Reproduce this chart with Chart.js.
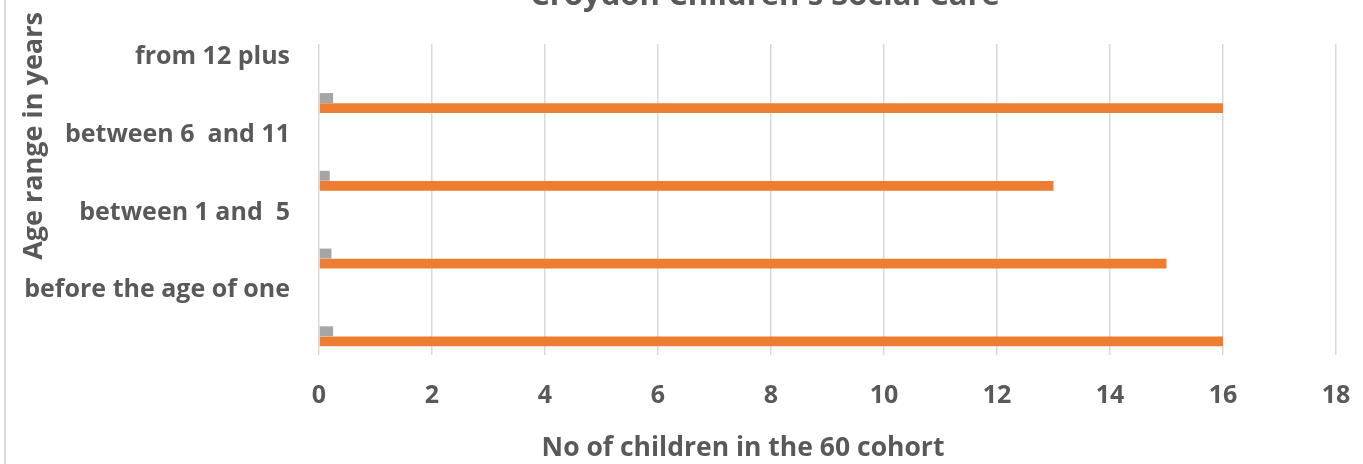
<!DOCTYPE html>
<html>
<head>
<meta charset="utf-8">
<script src="https://cdn.jsdelivr.net/npm/chart.js@4.4.0/dist/chart.umd.min.js"></script>
<style>
  html, body { margin: 0; padding: 0; background: #fff; overflow: hidden; }
  #frame { position: absolute; left: 4px; top: 0; width: 1359px; height: 464px; border-left: 2px solid #d9d9d9; }
  #frame canvas { display: block; }
</style>
</head>
<body>
<div id="frame"><canvas id="chart" width="1357" height="464"></canvas></div>
<script>
// Age bands, top to bottom
const categories = ['from 12 plus', 'between 6  and 11', 'between 1 and  5', 'before the age of one'];
// Number of children in each band
const cohortCounts = [16, 13, 15, 16];
// Share of the cohort in each band
const cohortShare = [0.25, 0.19, 0.22, 0.25];
// Value axis ticks
const xTickValues = [0, 2, 4, 6, 8, 10, 12, 14, 16, 18];

const chartTitle = "Croydon Children's Social Care";
const xTitle = 'No of children in the 60 cohort';
const yTitle = 'Age range in years';

const TEXT = '#595959';
const FONT = '"Open Sans", "DejaVu Sans", sans-serif';

// Chart, axis titles drawn on the canvas
const chartTexts = {
  id: 'chartTexts',
  afterDraw(chart) {
    const ctx = chart.ctx;
    ctx.save();
    ctx.fillStyle = TEXT;
    ctx.textAlign = 'center';
    ctx.textBaseline = 'alphabetic';
    ctx.font = 'bold 31px ' + FONT;
    ctx.fillText(chartTitle, 759, 5);
    ctx.font = 'bold 26.5px ' + FONT;
    ctx.fillText(xTitle, 737, 456);
    ctx.font = 'bold 27px ' + FONT;
    ctx.translate(28, 136);
    ctx.rotate(-Math.PI / 2);
    ctx.textBaseline = 'middle';
    ctx.fillText(yTitle, 0, 0);
    ctx.restore();
  }
};

// Empty series keep the same slot layout as the source workbook
const emptySeries = (n) => ({ label: 'Series ' + n, data: [], backgroundColor: 'rgba(0,0,0,0)' });

new Chart(document.getElementById('chart'), {
  type: 'bar',
  data: {
    labels: categories,
    datasets: [
      emptySeries(6), emptySeries(5), emptySeries(4), emptySeries(3),
      { label: 'Share', data: cohortShare, backgroundColor: '#A5A5A5' },
      { label: 'Children', data: cohortCounts, backgroundColor: '#ED7D31' }
    ]
  },
  plugins: [chartTexts],
  options: {
    indexAxis: 'y',
    responsive: false,
    animation: false,
    devicePixelRatio: 1,
    categoryPercentage: 0.78,
    barPercentage: 0.98,
    layout: { padding: { top: 41, right: 27, bottom: 0, left: 0 } },
    plugins: { legend: { display: false }, tooltip: { enabled: false }, title: { display: false } },
    scales: {
      x: {
        min: 0, max: 18,
        afterBuildTicks(scale) { scale.ticks = xTickValues.map(v => ({ value: v })); },
        afterFit(scale) {
          scale.height = 109;
          // end labels fit inside the layout padding
          scale.paddingLeft = 0;
          scale.paddingRight = 0;
        },
        grid: { color: '#d9d9d9', lineWidth: 1.5, drawTicks: false },
        border: { display: false },
        ticks: { color: TEXT, padding: 26, font: { family: FONT, size: 25, weight: 'bold' } }
      },
      y: {
        afterFit(scale) { scale.width = 313; },
        grid: { display: false, drawTicks: false },
        border: { display: false },
        ticks: { color: TEXT, padding: 29, labelOffset: -26, font: { family: FONT, size: 25, weight: 'bold' } }
      }
    }
  }
});
</script>
</body>
</html>
